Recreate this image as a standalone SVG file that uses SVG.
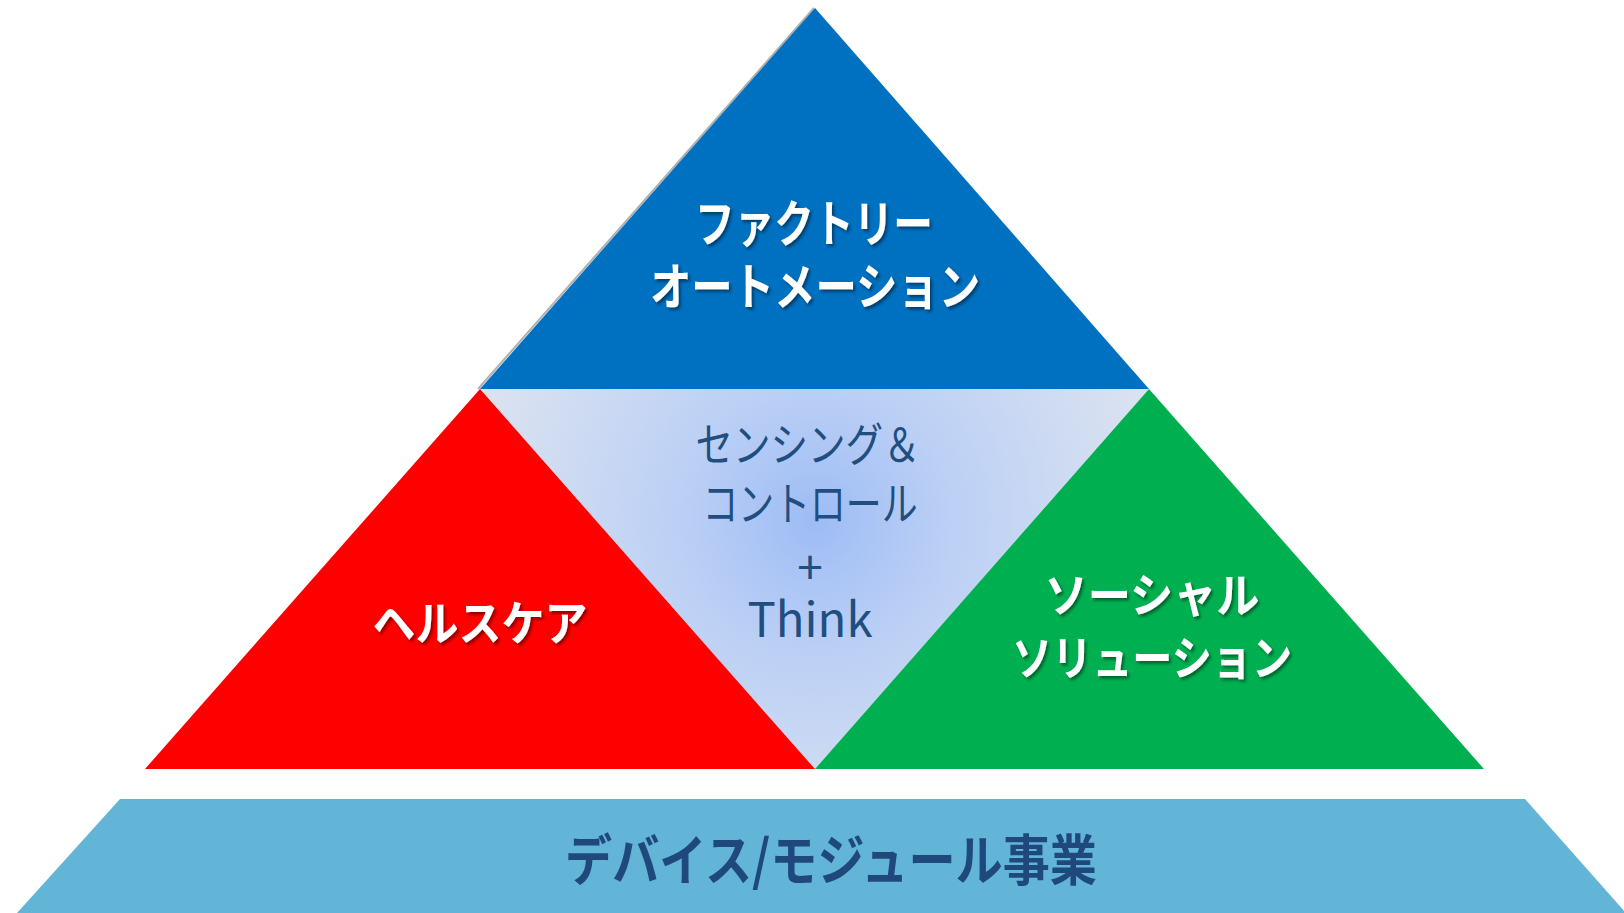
<svg xmlns="http://www.w3.org/2000/svg" width="1624" height="913" viewBox="0 0 1624 913">
<defs>
<radialGradient id="centerGrad" cx="815" cy="520" r="340" gradientUnits="userSpaceOnUse">
<stop offset="0" stop-color="#9DBCF5"/>
<stop offset="0.4" stop-color="#BCD0F5"/>
<stop offset="1" stop-color="#DAE2F0"/>
</radialGradient>
<filter id="shadow" x="-10%" y="-20%" width="120%" height="150%">
<feDropShadow dx="2" dy="2.5" stdDeviation="1.5" flood-color="#000" flood-opacity="0.45"/>
</filter>
</defs>
<style>
.w{font-family:"Noto Sans CJK JP","Noto Sans",sans-serif;font-weight:bold;fill:#FFFFFF;text-anchor:middle;filter:url(#shadow)}
.c{font-family:"Noto Sans CJK JP","Noto Sans",sans-serif;fill:#1F4E7F;text-anchor:middle}
.b{font-family:"Noto Sans CJK JP","Noto Sans",sans-serif;font-weight:bold;fill:#1F497D;text-anchor:middle}
</style>
<rect width="1624" height="913" fill="#FFFFFF"/>
<g id="factory-automation">
<polyline points="478,389 814,8" fill="none" stroke="#B0B0B0" stroke-width="2"/>
<polygon points="815,8 1149,389 480,389" fill="#0070C0"/>
<text class="w" x="814" y="242" font-size="50" textLength="238" lengthAdjust="spacingAndGlyphs">ファクトリー</text>
<text class="w" x="815" y="305" font-size="50" textLength="330" lengthAdjust="spacingAndGlyphs">オートメーション</text>
</g>
<g id="sensing-control">
<polygon points="480,389 1149,389 815,769" fill="url(#centerGrad)"/>
<text class="c" x="808" y="461" font-size="46" textLength="225" lengthAdjust="spacingAndGlyphs">センシング＆</text>
<text class="c" x="810" y="520" font-size="46" textLength="215" lengthAdjust="spacingAndGlyphs">コントロール</text>
<text class="c" x="810" y="584" font-size="46">+</text>
<text class="c" x="810" y="637" font-size="48" textLength="125" lengthAdjust="spacingAndGlyphs">Think</text>
</g>
<g id="healthcare">
<polygon points="480,389 815,769 145,769" fill="#FF0000"/>
<text class="w" x="480" y="640" font-size="47" textLength="215" lengthAdjust="spacingAndGlyphs">ヘルスケア</text>
</g>
<g id="social-solution">
<polygon points="1149,389 1484,769 815,769" fill="#00B050"/>
<text class="w" x="1152" y="612" font-size="47" textLength="215" lengthAdjust="spacingAndGlyphs">ソーシャル</text>
<text class="w" x="1152" y="675" font-size="47" textLength="280" lengthAdjust="spacingAndGlyphs">ソリューション</text>
</g>
<g id="device-module">
<polygon points="120,799 1525,799 1626,913 17,913" fill="#63B5D7"/>
<text class="b" x="831" y="880" font-size="55" textLength="532" lengthAdjust="spacingAndGlyphs">デバイス/モジュール事業</text>
</g>
<g id="connectors"></g>
</svg>
